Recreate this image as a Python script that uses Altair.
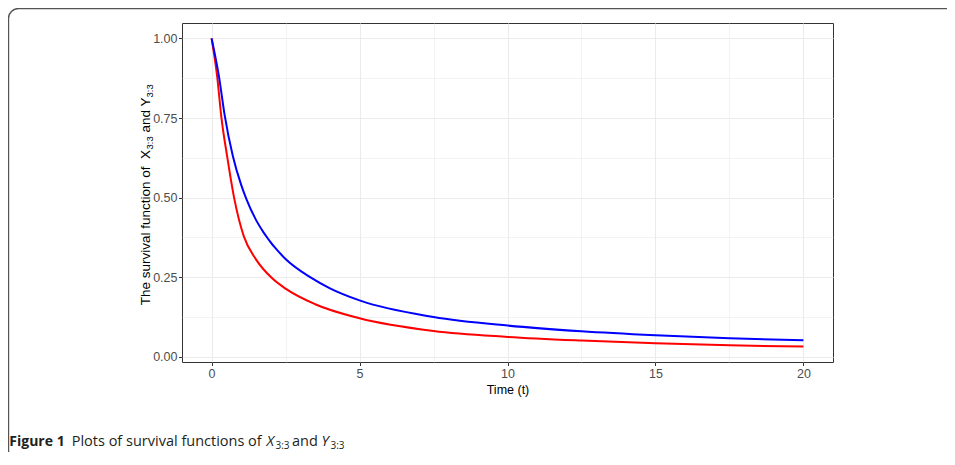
import altair as alt
import pandas as pd

# ---- data ----
t_red = [0, 0.19, 0.33, 0.53, 0.76, 1.09, 1.5, 2.03, 2.5, 3.5, 5, 7.5, 10, 12.5, 15, 17.5, 20]
s_red = [1.0, 0.879, 0.753, 0.627, 0.50, 0.378, 0.306, 0.248, 0.214, 0.165, 0.121, 0.081, 0.0625, 0.051, 0.0425, 0.036, 0.032]

t_blue = [0, 0.25, 0.44, 0.72, 1.0, 1.17, 1.5, 1.76, 2.5, 3.33, 4, 5, 7.5, 10, 12.5, 15, 17.5, 20]
s_blue = [1.0, 0.88, 0.76, 0.63, 0.54, 0.497, 0.43, 0.39, 0.307, 0.25, 0.215, 0.177, 0.125, 0.098, 0.080, 0.0675, 0.058, 0.052]

series_names = ["X3:3", "Y3:3"]
series_colors = ["#FF0000", "#0000FF"]

x_ticks = [0, 2.5, 5, 7.5, 10, 12.5, 15, 17.5, 20]
y_ticks = [0, 0.125, 0.25, 0.375, 0.5, 0.625, 0.75, 0.875, 1.0]

x_title = "Time (t)"
y_title_main = "The survival function of"
y_title_mid = "and Y"
subscript = "3:3"
cap_bold = "Figure 1"
cap_text = "Plots of survival functions of"

df = pd.concat([
    pd.DataFrame({"t": t_red, "s": s_red, "series": series_names[0]}),
    pd.DataFrame({"t": t_blue, "s": s_blue, "series": series_names[1]}),
])
one = pd.DataFrame({"k": [0]})

W, H = 651, 339
FONT = "Liberation Sans"
CAPFONT = "Open Sans"
CAPCOL = "#231F20"

x_axis = alt.Axis(
    values=x_ticks, format="~g",
    labelExpr="datum.value % 5 == 0 ? datum.label : ''",
    labelOverlap=False, labelColor="#4D4D4D", labelFontSize=12.5, labelFont=FONT,
    labelPadding=2, tickColor="#333333", tickSize=3.5, tickWidth=1,
    tickOpacity={"condition": {"test": "datum.value % 5 != 0", "value": 0}, "value": 1},
    gridColor="#EBEBEB",
    gridWidth={"condition": {"test": "datum.value % 5 != 0", "value": 0.6}, "value": 1.1},
    domain=False, title=x_title, titleFont=FONT, titleFontSize=12.5,
    titleFontWeight="normal", titleColor="black", titlePadding=3,
)
y_axis = alt.Axis(
    values=y_ticks,
    labelExpr="(datum.value * 4) % 1 == 0 ? format(datum.value, '.2f') : ''",
    labelOverlap=False, labelColor="#4D4D4D", labelFontSize=12.5, labelFont=FONT,
    labelPadding=1.5, tickColor="#333333", tickSize=3.5, tickWidth=1,
    tickOpacity={"condition": {"test": "(datum.value * 4) % 1 != 0", "value": 0}, "value": 1},
    gridColor="#EBEBEB",
    gridWidth={"condition": {"test": "(datum.value * 4) % 1 != 0", "value": 0.6}, "value": 1.1},
    domain=False, title=None,
)

lines = alt.Chart(df).mark_line(strokeWidth=2, interpolate="monotone").encode(
    x=alt.X("t:Q", scale=alt.Scale(domain=[-1, 21], nice=False, zero=False), axis=x_axis),
    y=alt.Y("s:Q", scale=alt.Scale(domain=[-0.0164, 1.0484], nice=False, zero=False), axis=y_axis),
    color=alt.Color("series:N", scale=alt.Scale(domain=series_names, range=series_colors), legend=None),
)


def txt(text, x, y, size=12, angle=0, align="left", weight="normal", style="normal", font=FONT, color="black"):
    return alt.Chart(one).mark_text(
        text=text, fontSize=size, angle=angle, align=align, baseline="alphabetic",
        fontWeight=weight, fontStyle=style, font=font, color=color,
    ).encode(x=alt.value(x), y=alt.value(y))


# rotated y-axis title with subscripts (plot-relative pixel positions)
ytitle = [
    txt(y_title_main, -32, 143.5, size=13.5, angle=270, align="right"),
    txt("X", -32, 127, size=13.5, angle=270, align="right"),
    txt(subscript, -29.5, 126.5, size=9.5, angle=270, align="left"),
    txt(y_title_mid, -32, 109.5, size=13.5, angle=270, align="left"),
    txt(subscript, -29.5, 74.5, size=9.5, angle=270, align="left"),
]

# caption
cap = [
    txt(cap_bold, -172.7, 423, size=14, weight="bold", font=CAPFONT, color=CAPCOL),
    txt(cap_text, -110.3, 423, size=14.5, font=CAPFONT, color=CAPCOL),
    txt("X", 84.5, 423, size=14.5, style="italic", font=CAPFONT, color=CAPCOL),
    txt(subscript, 93.5, 426, size=10, font=CAPFONT, color=CAPCOL),
    txt("and", 110, 423, size=14.5, font=CAPFONT, color=CAPCOL),
    txt("Y", 139.5, 423, size=14.5, style="italic", font=CAPFONT, color=CAPCOL),
    txt(subscript, 148.5, 426, size=10, font=CAPFONT, color=CAPCOL),
]

frame = alt.Chart(one).mark_rect(
    fill="white", fillOpacity=0, stroke="#555555", strokeWidth=1.4, cornerRadius=10
).encode(x=alt.value(-173.5), x2=alt.value(1000), y=alt.value(-14.5), y2=alt.value(437))

chart = alt.layer(lines, *ytitle, *cap, frame).properties(
    width=W, height=H,
    padding={"left": 174, "top": 15, "right": 114, "bottom": 90},
    autosize=alt.AutoSizeParams(type="none"),
).configure_view(stroke="#333333", strokeWidth=1)

chart.save("out.html", embed_options={"renderer": "svg", "actions": False})
